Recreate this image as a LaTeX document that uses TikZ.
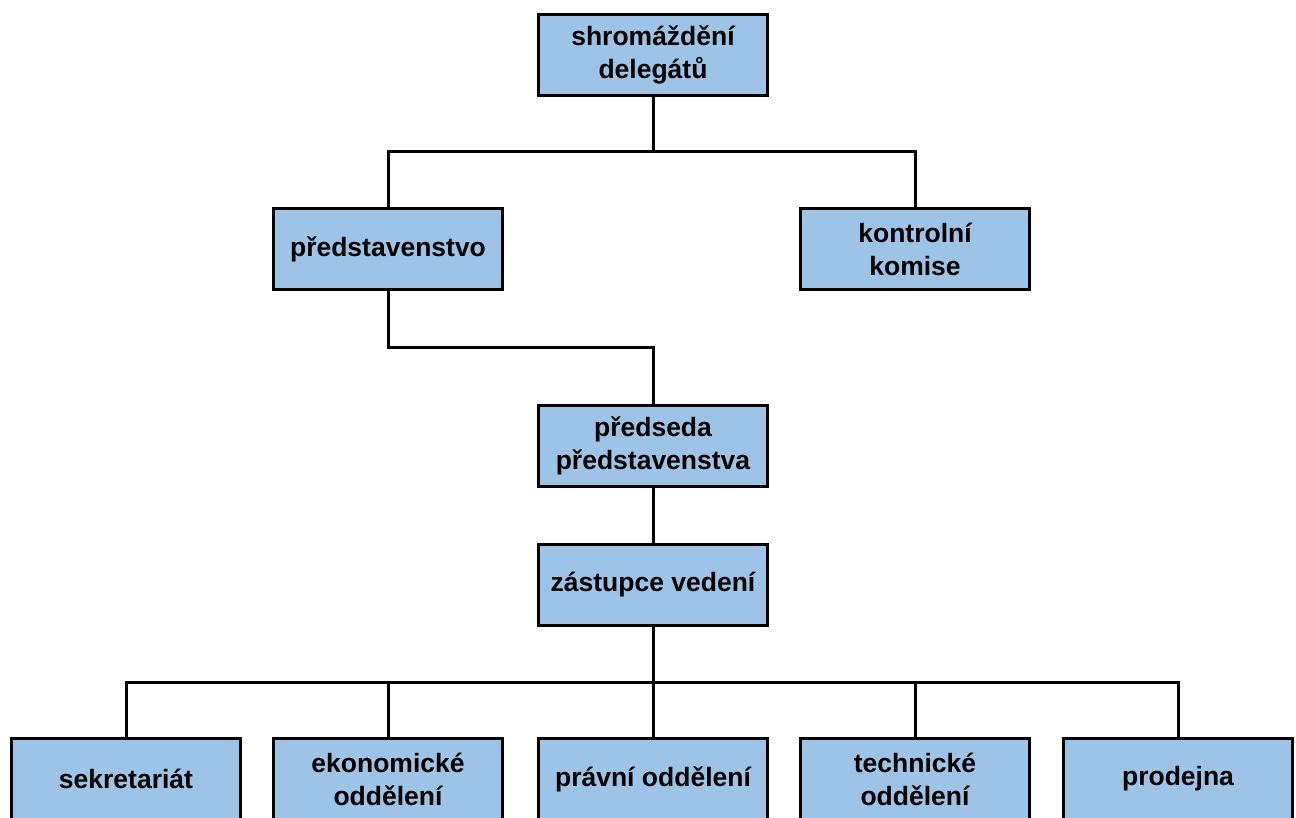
\documentclass[tikz,border=0pt]{standalone}
\usepackage{fontspec}
\setmainfont{Liberation Sans}
\definecolor{boxfill}{HTML}{9DC3E6}
\begin{document}
\begin{tikzpicture}[x=1pt,y=-1pt,
  orgbox/.style={draw=black, line width=3pt, fill=boxfill, minimum width=229pt, minimum height=81pt,
    inner sep=2pt, align=center, font=\fontsize{26.5}{33}\selectfont\bfseries},
  conn/.style={draw=black, line width=3pt}]
\useasboundingbox (0,0) rectangle (1296,818);
\clip (0,0) rectangle (1296,818);
\node[orgbox] (top) at (653,55) {shromáždění\\delegátů};
\node[orgbox] (pred) at (388,249.5) {\raisebox{-2pt}{představenstvo}};
\node[orgbox] (kont) at (915,249.5) {kontrolní\\komise};
\node[orgbox] (preds) at (653,446) {předseda\\představenstva};
\node[orgbox] (zast) at (653,585) {\raisebox{-2pt}{zástupce vedení}};
\node[orgbox] (sek) at (126,779) {\raisebox{-2pt}{sekretariát}};
\node[orgbox] (eko) at (388,779) {ekonomické\\oddělení};
\node[orgbox] (prav) at (653,779) {\raisebox{-2pt}{právní oddělení}};
\node[orgbox] (tech) at (915,779) {technické\\oddělení};
\node[orgbox] (prod) at (1178,779) {\raisebox{-2pt}{prodejna}};
\coordinate (bus1) at (653,152);
\coordinate (bus2) at (388,348);
\coordinate (bus3) at (653,682);
\draw[conn] (top.south) -- (bus1) -| (pred.north);
\draw[conn] (bus1) -| (kont.north);
\draw[conn] (pred.south) -- (bus2) -| (preds.north);
\draw[conn] (preds.south) -- (zast.north);
\draw[conn] (zast.south) -- (bus3) -| (sek.north);
\draw[conn] (bus3) -| (eko.north);
\draw[conn] (bus3) -- (prav.north);
\draw[conn] (bus3) -| (tech.north);
\draw[conn] (bus3) -| (prod.north);
\end{tikzpicture}
\end{document}
